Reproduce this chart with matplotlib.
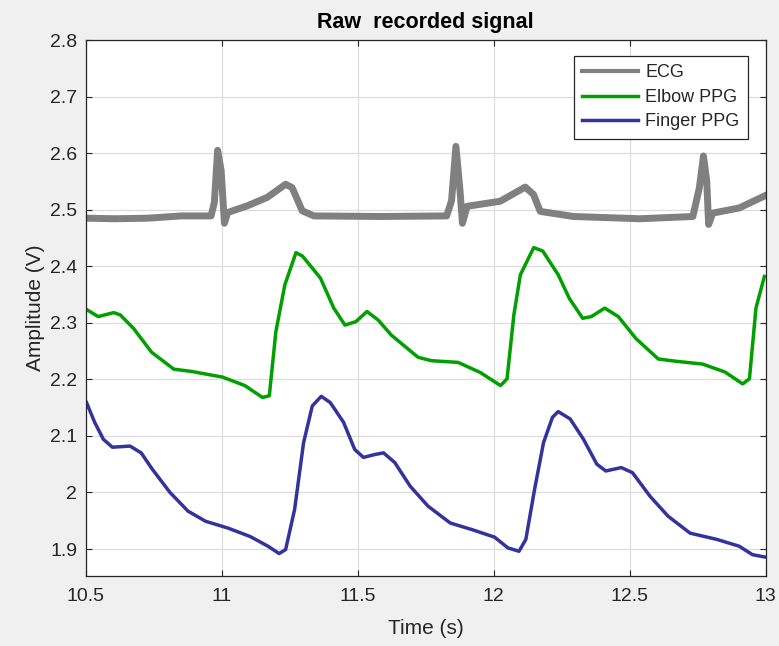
import matplotlib.pyplot as plt

plt.rcParams['font.family'] = ['Liberation Sans', 'DejaVu Sans']

# ECG keypoints
ecg_t = [10.504, 10.607, 10.729, 10.851, 10.961, 10.973, 10.985, 10.998, 11.010, 11.022,
         11.095, 11.168, 11.235, 11.259, 11.296, 11.339, 11.583, 11.827, 11.845, 11.861,
         11.876, 11.885, 11.902, 12.024, 12.116, 12.146, 12.171, 12.293, 12.537, 12.732,
         12.756, 12.771, 12.783, 12.790, 12.805, 12.902, 12.994]
ecg_v = [2.485, 2.484, 2.485, 2.489, 2.489, 2.513, 2.605, 2.569, 2.476, 2.495,
         2.507, 2.522, 2.545, 2.539, 2.498, 2.489, 2.488, 2.489, 2.516, 2.612,
         2.534, 2.476, 2.506, 2.515, 2.540, 2.527, 2.497, 2.488, 2.484, 2.488,
         2.539, 2.595, 2.551, 2.474, 2.494, 2.503, 2.524]

# Elbow PPG keypoints
elbow_t = [10.505, 10.546, 10.603, 10.627, 10.676, 10.742, 10.824, 10.889, 11.003, 11.085,
           11.150, 11.175, 11.199, 11.232, 11.273, 11.297, 11.363, 11.412, 11.453, 11.493,
           11.534, 11.575, 11.624, 11.722, 11.771, 11.869, 11.951, 12.025, 12.049, 12.074,
           12.098, 12.147, 12.180, 12.237, 12.278, 12.327, 12.359, 12.408, 12.458, 12.523,
           12.605, 12.670, 12.768, 12.850, 12.915, 12.940, 12.964, 12.995]
elbow_v = [2.323, 2.311, 2.318, 2.314, 2.290, 2.248, 2.218, 2.214, 2.204, 2.189,
           2.168, 2.171, 2.284, 2.367, 2.424, 2.418, 2.379, 2.326, 2.296, 2.302,
           2.320, 2.305, 2.278, 2.239, 2.233, 2.230, 2.212, 2.189, 2.201, 2.314,
           2.385, 2.433, 2.427, 2.385, 2.343, 2.308, 2.311, 2.326, 2.311, 2.272,
           2.236, 2.232, 2.227, 2.213, 2.192, 2.201, 2.326, 2.382]

# Finger PPG keypoints
finger_t = [10.503, 10.533, 10.565, 10.598, 10.663, 10.704, 10.745, 10.810, 10.876, 10.941,
            11.023, 11.105, 11.170, 11.211, 11.235, 11.268, 11.301, 11.333, 11.366, 11.399,
            11.448, 11.489, 11.521, 11.562, 11.595, 11.636, 11.693, 11.758, 11.840, 11.922,
            12.003, 12.052, 12.093, 12.118, 12.150, 12.183, 12.216, 12.237, 12.281, 12.330,
            12.379, 12.412, 12.469, 12.510, 12.575, 12.641, 12.722, 12.820, 12.902, 12.951,
            12.995]
finger_v = [2.159, 2.124, 2.094, 2.080, 2.082, 2.070, 2.041, 2.000, 1.967, 1.949,
            1.937, 1.922, 1.905, 1.892, 1.899, 1.970, 2.088, 2.153, 2.170, 2.159,
            2.124, 2.076, 2.062, 2.067, 2.070, 2.053, 2.011, 1.976, 1.946, 1.934,
            1.921, 1.902, 1.896, 1.917, 2.005, 2.088, 2.133, 2.143, 2.130, 2.094,
            2.050, 2.038, 2.044, 2.035, 1.993, 1.958, 1.928, 1.917, 1.905, 1.890,
            1.886]

fig = plt.figure(figsize=(7.79, 6.46), dpi=100, facecolor='#f0f0f0')
ax = fig.add_axes([0.110, 0.109, 0.873, 0.829])

ax.plot(ecg_t, ecg_v, color='#808080', lw=5, label='ECG')
ax.plot(elbow_t, elbow_v, color='#00a000', lw=2.5, label='Elbow PPG')
ax.plot(finger_t, finger_v, color='#33339c', lw=2.5, label='Finger PPG')

ax.set_xlim(10.5, 13)
ax.set_ylim(1.853, 2.8)
ax.set_xticks([10.5, 11, 11.5, 12, 12.5, 13])
ax.set_xticklabels(['10.5', '11', '11.5', '12', '12.5', '13'])
ax.set_yticks([1.9, 2, 2.1, 2.2, 2.3, 2.4, 2.5, 2.6, 2.7, 2.8])
ax.set_yticklabels(['1.9', '2', '2.1', '2.2', '2.3', '2.4', '2.5', '2.6', '2.7', '2.8'])
ax.grid(True, color='#dcdcdc', lw=0.9)
ax.set_axisbelow(True)
ax.tick_params(direction='in', top=True, right=True, labelsize=14, length=4,
               color='#262626', labelcolor='#262626')
ax.tick_params(axis='x', pad=9)
ax.tick_params(axis='y', pad=6)
for s in ax.spines.values():
    s.set_color('#262626')
    s.set_linewidth(0.9)

ax.set_xlabel('Time (s)', fontsize=15, color='#262626', labelpad=10)
ax.set_ylabel('Amplitude (V)', fontsize=15, color='#262626', labelpad=4)
ax.set_title('Raw  recorded signal', fontsize=15.5, fontweight='bold', pad=9)

leg = ax.legend(loc='upper right', bbox_to_anchor=(0.9735, 0.970), fontsize=13,
                fancybox=False, edgecolor='#262626', framealpha=1,
                handlelength=3.1, handletextpad=0.4, borderaxespad=0,
                labelspacing=0.42, borderpad=0.45)
leg.get_frame().set_linewidth(0.9)
for t in leg.get_texts():
    t.set_color('#262626')
leg.get_lines()[0].set_linewidth(3)

fig.savefig('out.png', dpi=100, facecolor=fig.get_facecolor())
